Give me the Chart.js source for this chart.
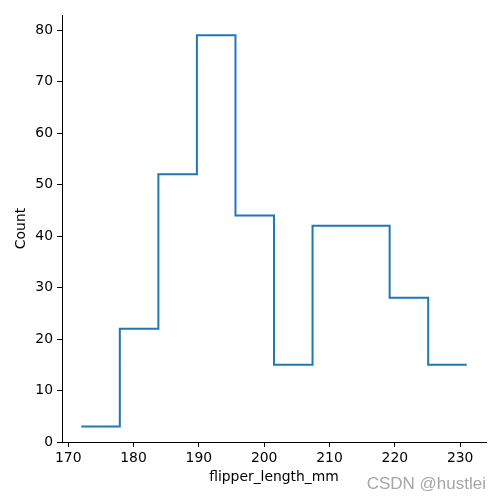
<!DOCTYPE html>
<html>
<head>
<meta charset="utf-8">
<script src="https://cdn.jsdelivr.net/npm/chart.js@4/dist/chart.umd.min.js"></script>
<style>
  html, body { margin: 0; padding: 0; background: #fff; }
  #wrap { width: 500px; height: 500px; position: relative; }
</style>
</head>
<body>
<div id="wrap"><canvas id="hist"></canvas></div>
<script>
// Histogram data (flipper_length_mm, 10 bins)
const binEdges = [172, 177.9, 183.8, 189.7, 195.6, 201.5, 207.4, 213.3, 219.2, 225.1, 231];
const counts = [3, 22, 52, 79, 44, 15, 42, 42, 28, 15];
const xTicks = [170, 180, 190, 200, 210, 220, 230];
const yTicks = [0, 10, 20, 30, 40, 50, 60, 70, 80];

// step outline: each bin starts at its left edge, last edge closes the final bin
const points = binEdges.map((x, i) => ({ x: x, y: counts[Math.min(i, counts.length - 1)] }));

const FONT = 'DejaVu Sans';

// watermark in the bottom right corner
const watermark = {
  id: 'watermark',
  afterDraw(chart) {
    const ctx = chart.ctx;
    ctx.save();
    ctx.font = '17px "Liberation Sans", Arial, sans-serif';
    ctx.fillStyle = '#a6a6a6';
    ctx.textAlign = 'right';
    ctx.textBaseline = 'middle';
    ctx.fillText('CSDN @hustlei', 486, 484);
    ctx.restore();
  }
};

const ctx = document.getElementById('hist').getContext('2d');
new Chart(ctx, {
  type: 'line',
  data: {
    datasets: [{
      data: points,
      stepped: true,
      borderColor: '#1f77b4',
      borderWidth: 2,
      pointRadius: 0,
      fill: false,
    }],
  },
  options: {
    responsive: true,
    maintainAspectRatio: false,
    animation: false,
    layout: { padding: { left: 0, top: 15, right: 14, bottom: 0 } },
    plugins: { legend: { display: false }, tooltip: { enabled: false } },
    scales: {
      x: {
        type: 'linear',
        min: 169.05,
        max: 233.95,
        afterFit: (s) => { s.height = 58; },
        afterBuildTicks: (s) => { s.ticks = xTicks.map(v => ({ value: v })); },
        grid: { drawOnChartArea: false, color: '#000', tickLength: 5, tickWidth: 1 },
        border: { color: '#000', width: 1 },
        ticks: { color: '#000', padding: 3, maxRotation: 0, font: { family: FONT, size: 13.9 } },
        title: {
          display: true, text: 'flipper_length_mm', color: '#000',
          font: { family: FONT, size: 13.9 }, padding: { top: 0, bottom: 14 },
        },
      },
      y: {
        type: 'linear',
        min: 0,
        max: 82.95,
        afterFit: (s) => { s.width = 62; },
        afterBuildTicks: (s) => { s.ticks = yTicks.map(v => ({ value: v })); },
        grid: { drawOnChartArea: false, color: '#000', tickLength: 5, tickWidth: 1 },
        border: { color: '#000', width: 1 },
        ticks: { color: '#000', padding: 4, font: { family: FONT, size: 13.9 } },
        title: {
          display: true, text: 'Count', color: '#000',
          font: { family: FONT, size: 13.9 }, padding: { top: 13, bottom: 0 },
        },
      },
    },
  },
  plugins: [watermark],
});
</script>
</body>
</html>
